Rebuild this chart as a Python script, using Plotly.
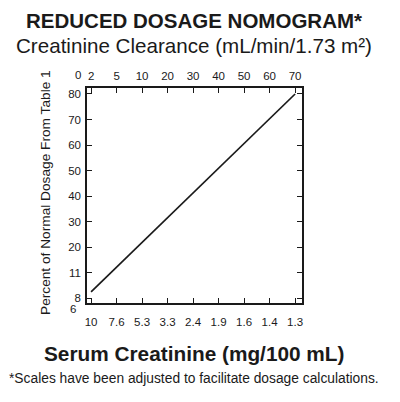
import plotly.graph_objects as go

# nomogram scale positions (equal steps on the chart)
positions = [0, 1, 2, 3, 4, 5, 6, 7, 8]
clearance_labels = ["2", "5", "10", "20", "30", "40", "50", "60", "70"]
serum_labels = ["10", "7.6", "5.3", "3.3", "2.4", "1.9", "1.6", "1.4", "1.3"]

dosage_vals = [0, 10, 20, 30, 40, 50, 60, 70, 80]
dosage_labels = ["8", "11", "20", "30", "40", "50", "60", "70", "80"]

# the nomogram line, in chart scale units
line_x = [0, 8]
line_y = [2.4, 80]

FONT = "Liberation Sans, Arial, Helvetica, sans-serif"
INK = "#1a1a1a"

W, H = 400, 402
PL, PR, PT, PB = 87, 98, 88, 99
X_RANGE = [-0.16, 8.27]
Y_RANGE = [-1.96, 82.35]


def px_x(x):
    return (x - PL) / (W - PL - PR)


def px_y(y):
    return (H - PB - y) / (H - PT - PB)


def label(text, x, y, size, angle=0):
    return dict(text=text, x=px_x(x), y=px_y(y), xref="paper", yref="paper",
                xanchor="center", yanchor="middle", textangle=angle,
                showarrow=False, font=dict(size=size, family=FONT, color=INK))


fig = go.Figure()
fig.add_trace(
    go.Scatter(x=line_x, y=line_y, mode="lines",
               line=dict(color=INK, width=1.7), showlegend=False, hoverinfo="skip")
)
# invisible trace so the top axis gets drawn
fig.add_trace(
    go.Scatter(x=line_x, y=line_y, xaxis="x2", mode="lines",
               line=dict(width=0), opacity=0, showlegend=False, hoverinfo="skip")
)

axis_common = dict(ticks="inside", ticklen=5, tickcolor=INK, showgrid=False,
                   zeroline=False, tickfont=dict(size=11.5, color=INK))

fig.update_layout(
    width=W,
    height=H,
    margin=dict(l=PL, r=PR, t=PT, b=PB),
    paper_bgcolor="white",
    plot_bgcolor="white",
    font=dict(family=FONT, color=INK, size=12),
    xaxis=dict(range=X_RANGE, tickvals=positions, ticktext=serum_labels,
               showline=True, linecolor=INK, linewidth=1.5, mirror=True,
               ticklabelstandoff=7, **axis_common),
    xaxis2=dict(range=X_RANGE, overlaying="x", side="top", tickvals=positions,
                ticktext=clearance_labels, showline=False, ticklabelstandoff=5,
                **axis_common),
    yaxis=dict(range=Y_RANGE, tickvals=dosage_vals, ticktext=dosage_labels,
               showline=True, linecolor=INK, linewidth=1.5, mirror="ticks",
               ticklabelstandoff=2, **axis_common),
    annotations=[
        label("<b>REDUCED DOSAGE NOMOGRAM*</b>", 194, 20, 20.5),
        label("Creatinine Clearance (mL/min/1.73 m²)", 194, 45, 20.6),
        label("<b>Serum Creatinine (mg/100 mL)</b>", 194, 353, 20.8),
        label("*Scales have been adjusted to facilitate dosage calculations.", 194, 378, 13.8),
        label("Percent of Normal Dosage From Table 1", 45, 193, 13.7, angle=-90),
        label("0", 78, 75, 11.5),
        label("6", 73, 309, 11.5),
    ],
)

fig.write_html("out.html", config={"displayModeBar": False},
               post_script="document.body.style.margin='0';")
